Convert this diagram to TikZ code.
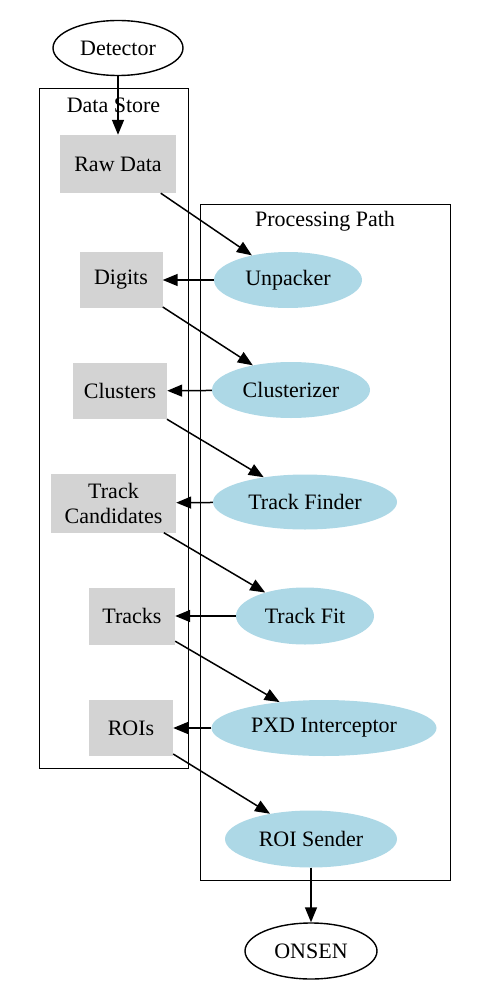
\documentclass[tikz,border=0pt]{standalone}
\usepackage{fontspec}
\setmainfont{Liberation Serif}
\usetikzlibrary{shapes.geometric,arrows.meta}

\definecolor{procblue}{HTML}{ADD8E6}
\definecolor{storegray}{HTML}{D3D3D3}

\tikzset{
  every node/.style={font=\fontsize{22}{25}\selectfont, inner sep=0pt},
  ext/.style={ellipse, draw, line width=1.4pt},
  proc/.style={ellipse, fill=procblue},
  store/.style={rectangle, fill=storegray, align=center},
  cluster/.style={draw, line width=0.9pt},
  flow/.style={line width=1.5pt, -{Triangle[length=15pt,width=12pt]}}
}

\begin{document}
\begin{tikzpicture}[x=1pt,y=-1pt]
            \useasboundingbox (0,0) rectangle (481,1000);

            \draw[cluster] (39,88) rectangle (188,768);
            \draw[cluster] (200,204) rectangle (450,880);
            \node (dslabel) at (113.5,105){Data Store};
            \node (pplabel) at (325,221){Processing Path};

            \node[ext, minimum width=130, minimum height=55] (det) at (118,48){Detector};
            \node[ext, minimum width=132, minimum height=56] (onsen) at (311,951){ONSEN};

            \node[store, minimum width=116, minimum height=58] (raw) at (118,164){Raw Data};
            \node[store, minimum width=83, minimum height=56] (dig) at (121,280){Digits};
            \node[store, minimum width=94, minimum height=56] (clu) at (120,391){Clusters};
            \node[store, minimum width=125, minimum height=59] (tcand) at (113.5,503){Track\\Candidates};
            \node[store, minimum width=86, minimum height=57] (trk) at (132,616){Tracks};
            \node[store, minimum width=84, minimum height=56] (roi) at (131,728){ROIs};

            \node[proc, minimum width=148, minimum height=56] (unp) at (288,280){Unpacker};
            \node[proc, minimum width=158, minimum height=56] (cls) at (291,390){Clusterizer};
            \node[proc, minimum width=184, minimum height=55] (tfind) at (305,502){Track Finder};
            \node[proc, minimum width=138, minimum height=57] (tfit) at (305,616){Track Fit};
            \node[proc, minimum width=225, minimum height=56] (pxd) at (324,728){PXD Interceptor};
            \node[proc, minimum width=172, minimum height=57] (send) at (311,839){ROI Sender};

            \draw[flow] (det) -- (raw);
            \draw[flow] (raw) -- (unp);
            \draw[flow] (unp) -- (dig);
            \draw[flow] (dig) -- (cls);
            \draw[flow] (cls) -- (clu);
            \draw[flow] (clu) -- (tfind);
            \draw[flow] (tfind) -- (tcand);
            \draw[flow] (tcand) -- (tfit);
            \draw[flow] (tfit) -- (trk);
            \draw[flow] (trk) -- (pxd);
            \draw[flow] (pxd) -- (roi);
            \draw[flow] (roi) -- (send);
            \draw[flow] (send) -- (onsen);
\end{tikzpicture}
\end{document}
